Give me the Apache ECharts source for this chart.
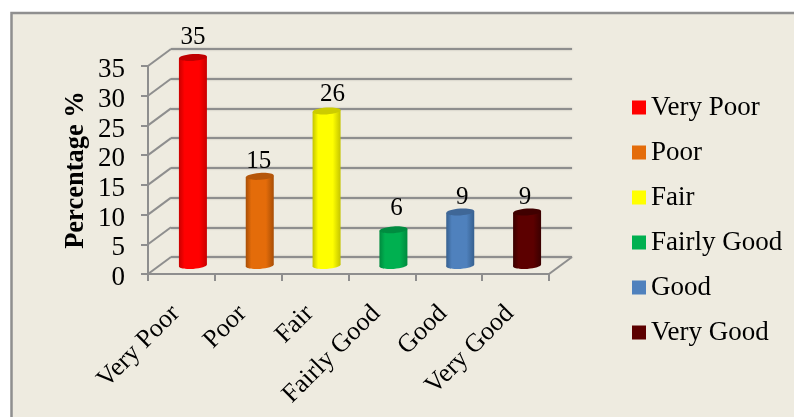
<!DOCTYPE html>
<html><head><meta charset="utf-8">
<style>html,body{margin:0;padding:0;background:#fff}#c{width:794px;height:417px}</style>
<script src="https://cdn.jsdelivr.net/npm/echarts@6/dist/echarts.min.js"></script>
</head><body><div id="c"></div>
<script>
const categories = ['Very Poor','Poor','Fair','Fairly Good','Good','Very Good'];
const values = [35,15,26,6,9,9];
const colors = ['#FF0000','#E46C0A','#FFFF00','#00B050','#4F81BD','#5C0000'];
const edgeColors = ['#C80000','#A84E06','#C4C400','#008A3E','#36608F','#3A0000'];
const topColors = ['#C00000','#B5560A','#CCCC00','#008C40','#3F6797','#400000'];
const yTicks = [0,5,10,15,20,25,30,35];
const labelNudge = [[0,-8],[-1,-2],[6,-4],[3,-9],[2,-2],[-2,-2]];
const FONT = '"Liberation Serif","Times New Roman",serif';
const GRID = '#8E8E8E';
const DX = 23, DY = -17;
const chart = echarts.init(document.getElementById('c'), null, {renderer:'canvas'});

function cylinder(i){
  return function(params, api){
    const idx = api.value(0), v = api.value(1);
    const t = api.coord([idx, v]), b = api.coord([idx, 0]);
    const rx = 14, ry = 3.4, rot = 0.07, sl = rx*Math.tan(rot);
    const grad = new echarts.graphic.LinearGradient(0,0,1,0,[
      {offset:0,color:edgeColors[i]},{offset:0.2,color:colors[i]},
      {offset:0.72,color:colors[i]},{offset:1,color:edgeColors[i]}]);
    const x0=t[0]-rx, x1=t[0]+rx;
    return {type:'group',children:[
      {type:'ellipse',shape:{cx:b[0],cy:b[1],rx:rx,ry:ry},rotation:rot,originX:b[0],originY:b[1],style:{fill:grad}},
      {type:'polygon',shape:{points:[[x0,t[1]+sl],[x1,t[1]-sl],[x1,b[1]-sl],[x0,b[1]+sl]]},style:{fill:grad}},
      {type:'ellipse',shape:{cx:t[0],cy:t[1],rx:rx,ry:ry},rotation:rot,originX:t[0],originY:t[1],style:{fill:topColors[i]}},
      {type:'text',x:t[0]+labelNudge[i][0],y:t[1]+labelNudge[i][1],style:{text:String(v),font:'25px '+FONT,fill:'#000',align:'center',verticalAlign:'bottom'}}
    ]};
  };
}
const barSeries = categories.map((name,i)=>({
  name:name,type:'custom',xAxisIndex:1,yAxisIndex:1,z:5,
  itemStyle:{color:colors[i]},
  encode:{x:0,y:1},
  data:[[i,values[i]]],
  renderItem:cylinder(i)
}));
const wallLine = {
  type:'custom',xAxisIndex:0,yAxisIndex:0,z:1,silent:true,
  encode:{y:0},
  data:yTicks.map(v=>[v]),
  renderItem(params,api){
    const cs=params.coordSys, y=api.coord([0,api.value(0)])[1];
    const els=[{type:'line',shape:{x1:cs.x,y1:y,x2:cs.x+DX,y2:y+DY},style:{stroke:GRID,lineWidth:2}}];
    if(api.value(0)===0) els.push({type:'line',shape:{x1:cs.x+cs.width,y1:y,x2:cs.x+cs.width+DX,y2:y+DY},style:{stroke:GRID,lineWidth:2}});
    return {type:'group',children:els};
  }
};
chart.setOption({
  animation:false,
  backgroundColor:'#fff',
  graphic:[{type:'rect',z:-10,shape:{x:11.5,y:13,width:800,height:420},style:{fill:'#EEEBE0',stroke:'#8F8F8F',lineWidth:2.5}}],
  grid:[
    {left:148,top:66,width:401,height:208},
    {left:159.5,top:57.5,width:401,height:208},
    {left:171,top:49,width:401,height:208}
  ],
  legend:{orient:'vertical',left:627,top:89,itemWidth:14,itemHeight:14,itemGap:18,
    icon:'rect',data:categories,
    textStyle:{fontFamily:FONT,fontSize:27,color:'#000',lineHeight:27}},
  xAxis:[
    {gridIndex:0,type:'category',data:categories,
     axisLine:{lineStyle:{color:GRID,width:2}},
     axisTick:{show:true,alignWithLabel:false,length:7,lineStyle:{color:GRID,width:2}},
     axisLabel:{interval:0,rotate:45,margin:30,padding:[0,8,0,0],fontFamily:FONT,fontSize:26,color:'#000'}},
    {gridIndex:1,type:'category',data:categories,show:false},
    {gridIndex:2,type:'category',data:categories,show:false}
  ],
  yAxis:[
    {gridIndex:0,type:'value',min:0,max:35,interval:5,
     name:'Percentage %',nameLocation:'middle',nameGap:58,nameMoveOverlap:false,
     nameTextStyle:{fontFamily:FONT,fontSize:26.5,fontWeight:'bold',color:'#000'},
     axisLine:{show:true,lineStyle:{color:GRID,width:2}},
     axisTick:{show:true,length:7,lineStyle:{color:GRID,width:2}},
     splitLine:{show:false},
     axisLabel:{margin:23,verticalAlign:'top',lineHeight:8,fontFamily:FONT,fontSize:27,color:'#000'}},
    {gridIndex:1,type:'value',min:0,max:35,interval:5,show:false,splitLine:{show:false}},
    {gridIndex:2,type:'value',min:0,max:35,interval:5,
     axisLine:{show:false},axisTick:{show:false},axisLabel:{show:false},
     splitLine:{show:true,lineStyle:{color:GRID,width:2,shadowBlur:2,shadowColor:'rgba(0,0,0,0.25)'}}}
  ],
  series:[wallLine].concat(barSeries)
});
</script></body></html>
